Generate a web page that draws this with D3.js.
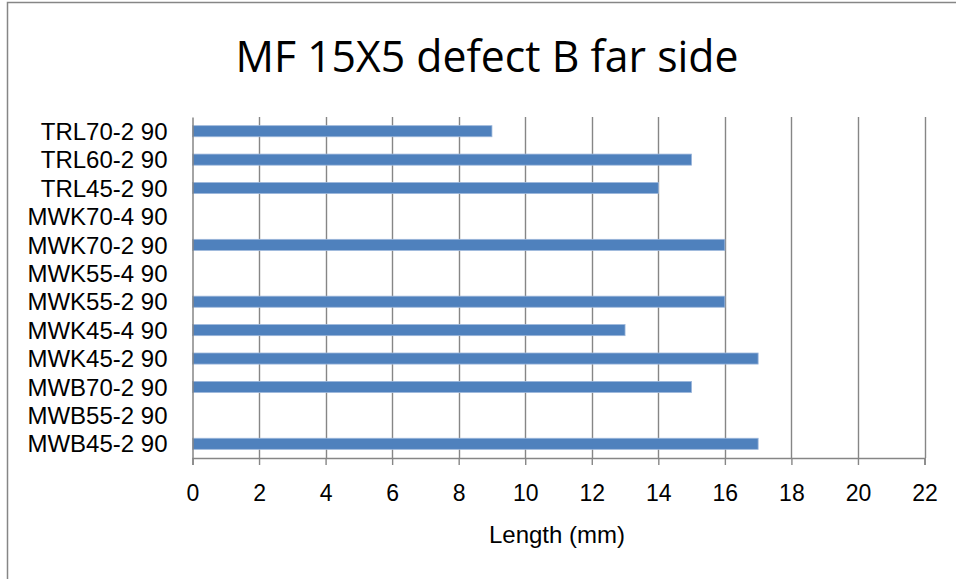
<!DOCTYPE html>
<html><head><meta charset="utf-8">
<script src="https://cdn.jsdelivr.net/npm/d3@7"></script>
<style>body{margin:0;background:#fff}svg{display:block}text{font-family:"Liberation Sans",Arial,sans-serif}</style>
</head><body>
<script>
const categories = ["TRL70-2 90","TRL60-2 90","TRL45-2 90","MWK70-4 90","MWK70-2 90","MWK55-4 90","MWK55-2 90","MWK45-4 90","MWK45-2 90","MWB70-2 90","MWB55-2 90","MWB45-2 90"];
const values = [9,15,14,0,16,0,16,13,17,15,0,17];
const xTicks = [0,2,4,6,8,10,12,14,16,18,20,22];
const title = "MF 15X5 defect B far side";
const xTitle = "Length (mm)";

const W = 956, H = 579;
const svg = d3.select("body").append("svg").attr("width", W).attr("height", H);
svg.append("rect").attr("x", 7.5).attr("y", 2.5).attr("width", W + 10).attr("height", H + 10)
  .attr("fill", "#fff").attr("stroke", "#868686").attr("stroke-width", 1.5);

const m = {left:192.5, right:924.5, top:117, bottom:458};
const x = d3.scaleLinear().domain([0,22]).range([m.left, m.right]);
const y = d3.scaleBand().domain(categories).range([m.top, m.bottom]).paddingInner(0.61).paddingOuter(0.305);

// gridlines
svg.append("g").selectAll("line").data(xTicks.filter(d=>d>0)).join("line")
  .attr("x1", d=>Math.round(x(d))+0.5).attr("x2", d=>Math.round(x(d))+0.5)
  .attr("y1", m.top).attr("y2", m.bottom)
  .attr("stroke", "#868686").attr("stroke-width", 1.4);

// bars
svg.append("g").selectAll("rect").data(values).join("rect")
  .attr("x", x(0)).attr("y", (d,i)=>y(categories[i]))
  .attr("width", d=>x(d)-x(0)).attr("height", y.bandwidth())
  .attr("fill", "#4F81BD").attr("stroke", d=>d>0?"#9DB7DB":"none").attr("stroke-width", 0.8);

// x axis
const xAxis = svg.append("g").attr("transform", `translate(0,${m.bottom})`)
  .call(d3.axisBottom(x).tickValues(xTicks).tickSize(7).tickPadding(20).tickFormat(d3.format("d")));
xAxis.select(".domain").attr("stroke", "#868686").attr("stroke-width", 1.5);
xAxis.selectAll(".tick line").attr("stroke", "#868686").attr("stroke-width", 1.4);
xAxis.selectAll("text").attr("font-size", 23).attr("fill", "#000");

// y axis
const yAxis = svg.append("g").attr("transform", `translate(${m.left},0)`)
  .call(d3.axisLeft(y).tickSize(0).tickPadding(25));
yAxis.select(".domain").attr("stroke", "#868686").attr("stroke-width", 1.5);
yAxis.selectAll("text").attr("font-size", 24).attr("fill", "#000").attr("dy", "0.36em");

// titles
svg.append("text").attr("x", 487).attr("y", 72).attr("text-anchor", "middle")
  .style("font-family", "'Open Sans',sans-serif")
  .attr("font-size", 44).attr("textLength", 503).attr("lengthAdjust", "spacingAndGlyphs").text(title);
svg.append("text").attr("x", 557).attr("y", 543).attr("text-anchor", "middle")
  .attr("font-size", 24).text(xTitle);
</script>
</body></html>
